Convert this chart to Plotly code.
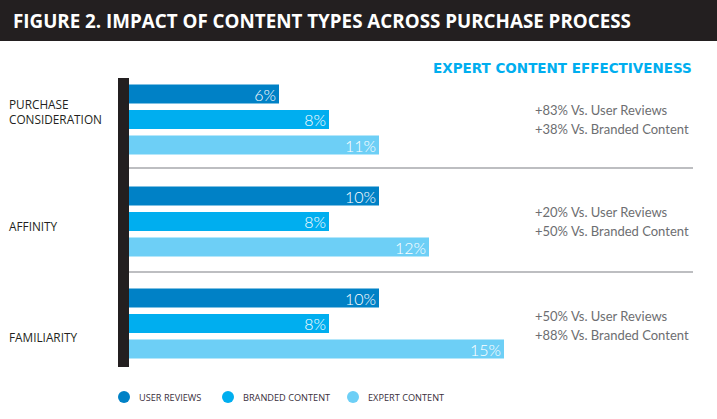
import plotly.graph_objects as go

# -------------------------------
# Data
# -------------------------------

stages = ["PURCHASE<br>CONSIDERATION", "AFFINITY", "FAMILIARITY"]
series = ["USER REVIEWS", "BRANDED CONTENT", "EXPERT CONTENT"]
colors = ["#0081c6", "#00aeef", "#6dcff6"]

user_reviews = [6, 10, 10]
branded_content = [8, 8, 8]
expert_content = [10, 12, 15]  # bar lengths as drawn
expert_labels = ["11%", "12%", "15%"]  # labels as printed

vs_user = ["+83%", "+20%", "+50%"]
vs_branded = ["+38%", "+50%", "+88%"]

values = [user_reviews, branded_content, expert_content]
labels = [
    [f"{v}%" for v in user_reviews],
    [f"{v}%" for v in branded_content],
    expert_labels,
]

# -------------------------------
# Page geometry (pixels)
# -------------------------------

W, H = 717, 419
X0, PX_PER_UNIT = 129, 25  # bar origin and scale
Y0, PITCH = 119.5, 102  # first group centre and group pitch


def px(x):
    return x / W


def py(y):
    return 1 - y / H


# -------------------------------
# Bars
# -------------------------------

fig = go.Figure()
ypos = list(range(len(stages)))

for name, vals, txt, col in zip(series, values, labels, colors):
    fig.add_trace(
        go.Bar(
            x=vals,
            y=ypos,
            orientation="h",
            name=name,
            marker=dict(color=col, line=dict(width=0)),
            text=txt,
            textposition="inside",
            insidetextanchor="end",
            constraintext="none",
            textfont=dict(family="Lato", size=16, color="white", weight=300),
            showlegend=False,
            hoverinfo="skip",
        )
    )

# -------------------------------
# Shapes: header band, axis bar, separators, legend dots
# -------------------------------

shapes = [
    dict(type="rect", xref="paper", yref="paper", x0=0, x1=1, y0=py(41), y1=1,
         fillcolor="#231f20", line=dict(width=0), layer="below"),
    dict(type="rect", xref="paper", yref="paper", x0=px(118), x1=px(129),
         y0=py(367), y1=py(78), fillcolor="#231f20", line=dict(width=0)),
]
for sep in [168, 272]:
    shapes.append(
        dict(type="line", xref="paper", yref="paper", x0=px(129), x1=px(693),
             y0=py(sep), y1=py(sep), line=dict(color="#a7a9ac", width=1.5))
    )

legend_x = [124, 228, 353]
for cx, col in zip(legend_x, colors):
    shapes.append(
        dict(type="circle", xref="paper", yref="paper",
             xsizemode="pixel", ysizemode="pixel",
             xanchor=px(cx), yanchor=py(397),
             x0=-6, x1=6, y0=-6, y1=6,
             fillcolor=col, line=dict(width=0))
    )

# -------------------------------
# Text
# -------------------------------

ann = [
    dict(text="<b>FIGURE 2. IMPACT OF CONTENT TYPES ACROSS PURCHASE PROCESS</b>",
         x=px(11), y=py(21), xanchor="left", yanchor="middle",
         font=dict(family="Open Sans", size=18.8, color="white")),
    dict(text="<b>EXPERT CONTENT EFFECTIVENESS</b>",
         x=px(694), y=py(68), xanchor="right", yanchor="middle",
         font=dict(family="DejaVu Sans", size=13.5, color="#00aeef")),
]

stage_y = [111, 226, 337]
for s, sy in zip(stages, stage_y):
    ann.append(
        dict(text=s, x=px(7), y=py(sy), xanchor="left", yanchor="middle",
             align="left",
             font=dict(family="Open Sans", size=11.8, color="#231f20"))
    )

cmp_y = [110, 212, 316]
for u, b, cy in zip(vs_user, vs_branded, cmp_y):
    ann.append(
        dict(text=f"{u} Vs. User Reviews", x=px(533), y=py(cy),
             xanchor="left", yanchor="middle",
             font=dict(family="Lato", size=13, color="#6d6e71"))
    )
    ann.append(
        dict(text=f"{b} Vs. Branded Content", x=px(533), y=py(cy + 19),
             xanchor="left", yanchor="middle",
             font=dict(family="Lato", size=13, color="#6d6e71"))
    )

for cx, name in zip(legend_x, series):
    ann.append(
        dict(text=name, x=px(cx + 13), y=py(397), xanchor="left", yanchor="middle",
             font=dict(family="Open Sans", size=9.2, color="#3a2f3b"))
    )

for a in ann:
    a.update(xref="paper", yref="paper", showarrow=False)

# -------------------------------
# Layout
# -------------------------------

fig.update_layout(
    width=W,
    height=H,
    margin=dict(l=0, r=0, t=0, b=0),
    paper_bgcolor="white",
    plot_bgcolor="white",
    barmode="group",
    bargap=0.25,
    bargroupgap=0.255,
    xaxis=dict(visible=False, range=[-X0 / PX_PER_UNIT, (W - X0) / PX_PER_UNIT]),
    yaxis=dict(visible=False, range=[(H - Y0) / PITCH, -Y0 / PITCH]),
    shapes=shapes,
    annotations=ann,
)

# page body margin would push the figure off the window
fig.write_html(
    "out.html",
    config={"displayModeBar": False},
    post_script="document.body.style.margin='0';",
)
